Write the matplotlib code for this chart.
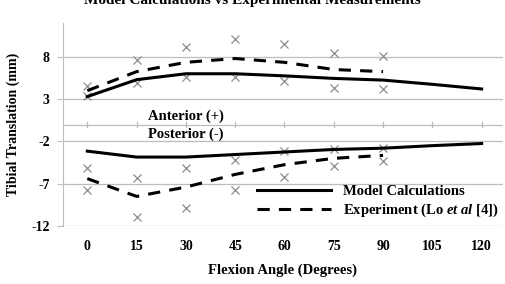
import matplotlib
matplotlib.use("Agg")
import matplotlib.pyplot as plt

# flexion angles (deg)
angles = [0, 15, 30, 45, 60, 75, 90, 105, 120]
exp_angles = [0, 15, 30, 45, 60, 75, 90]

# anterior (+)
model_ant = [3.3, 5.3, 6.0, 6.0, 5.75, 5.45, 5.25, 4.75, 4.2]
exp_ant = [4.0, 6.25, 7.35, 7.8, 7.35, 6.5, 6.25]
exp_ant_hi = [4.6, 7.65, 9.2, 10.1, 9.55, 8.5, 8.05]
exp_ant_lo = [3.4, 4.95, 5.6, 5.6, 5.1, 4.3, 4.2]

# posterior (-)
model_post = [-3.15, -3.85, -3.85, -3.55, -3.25, -2.95, -2.8, -2.5, -2.25]
exp_post = [-6.4, -8.5, -7.4, -5.9, -4.75, -4.0, -3.65]
exp_post_hi = [-5.1, -6.3, -5.2, -4.15, -3.15, -2.85, -2.8]
exp_post_lo = [-7.7, -10.9, -9.9, -7.7, -6.2, -4.95, -4.35]

yticks = [-12, -7, -2, 3, 8]

plt.rcParams["font.family"] = ["Liberation Serif", "DejaVu Serif"]
plt.rcParams["font.weight"] = "bold"
plt.rcParams["axes.labelweight"] = "bold"
plt.rcParams["axes.unicode_minus"] = False
plt.rcParams["mathtext.fontset"] = "custom"
plt.rcParams["mathtext.it"] = "Liberation Serif:italic:bold"
plt.rcParams["mathtext.rm"] = "Liberation Serif:bold"

fig = plt.figure(figsize=(5.05, 2.84), dpi=100)
ax = fig.add_axes([63 / 505, 1 - 226 / 284, 440 / 505, 203 / 284])

grid = "#bdbdbd"
for y in yticks:
    ax.axhline(y, color=grid, lw=0.9, zorder=0)
ax.axhline(0, color=grid, lw=0.9, zorder=0)
for a in angles:
    ax.plot([a, a], [-0.35, 0.35], color=grid, lw=0.9, zorder=0)

gray = "#8c8c8c"
for vals in (exp_ant_hi, exp_ant_lo, exp_post_hi, exp_post_lo):
    ax.plot(exp_angles, vals, "x", color=gray, ms=6, mew=0.9)

dash = (0, (4, 3))
ax.plot(angles, model_ant, color="black", lw=2.2, label="Model Calculations")
ax.plot(exp_angles, exp_ant, color="black", lw=2.2, ls=dash,
        label="Experiment (Lo $\\mathit{et\\ al}$ [4])")
ax.plot(angles, model_post, color="black", lw=2.2)
ax.plot(exp_angles, exp_post, color="black", lw=2.2, ls=dash)

ax.text(30, 0.95, "Anterior (+)", ha="center", va="center", fontsize=10.5)
ax.text(30, -1.2, "Posterior (-)", ha="center", va="center", fontsize=10.5)

ax.set_xlim(-7.4, 126.5)
ax.set_ylim(-12, 12)
ax.set_yticks(yticks)
ax.set_xticks(angles)
ax.tick_params(axis="x", length=0, pad=10, labelsize=10)
ax.tick_params(axis="y", length=4, color=grid, labelsize=10, pad=5.5)
for s in ["top", "right", "bottom"]:
    ax.spines[s].set_visible(False)
ax.spines["left"].set_color(grid)

ax.set_xlabel("Flexion Angle (Degrees)", fontsize=10.5, labelpad=8)
ax.set_ylabel("Tibial Translation (mm)", fontsize=10, labelpad=8)

ax.legend(loc="lower right", bbox_to_anchor=(1.004, 0.005), frameon=False,
          fontsize=10.5, handlelength=5.1, handletextpad=0.8,
          labelspacing=0.23, borderaxespad=0.0)

fig.text(0.5, 1 - 4 / 284, "Model Calculations vs Experimental Measurements",
         ha="center", va="baseline", fontsize=11)

fig.savefig("out.png", dpi=100)
